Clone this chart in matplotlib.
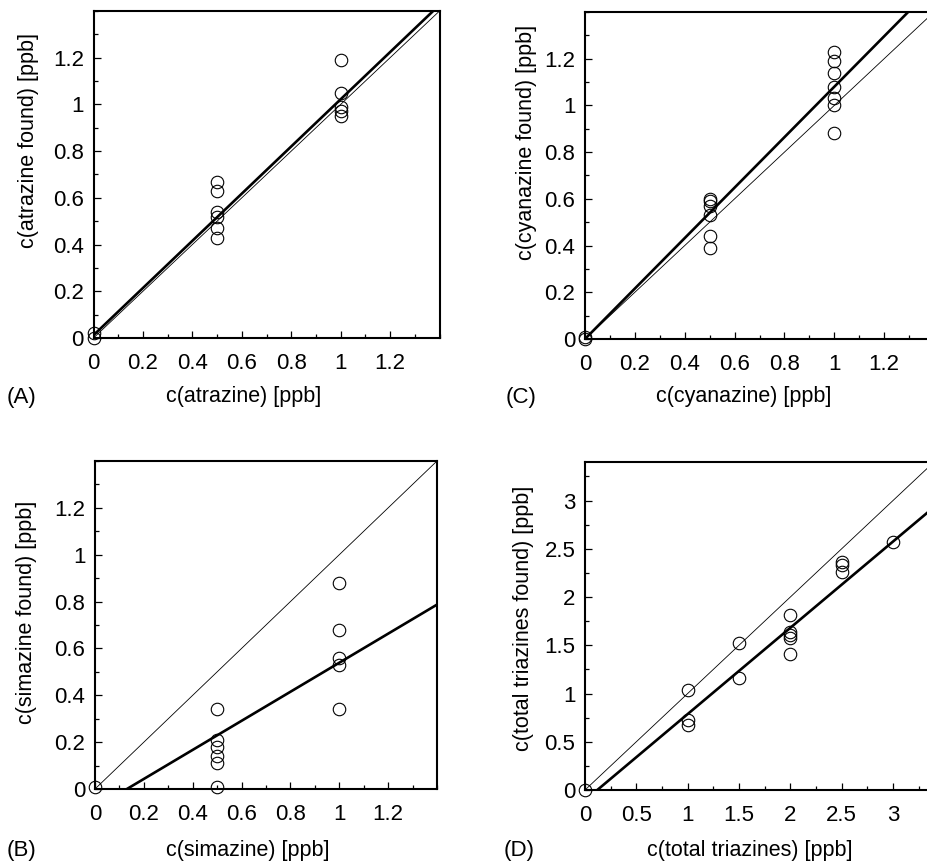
import numpy as np
import matplotlib
matplotlib.use('Agg')
import matplotlib.pyplot as plt
from matplotlib.ticker import FixedLocator, MultipleLocator, FuncFormatter

plt.rcParams['font.family'] = ['Liberation Sans', 'DejaVu Sans']

#---DATA----------------------------------------------------------------------

#(A) atrazine
atra_x = [0, 0, 0.5, 0.5, 0.5, 0.5, 0.5, 0.5, 1, 1, 1, 1, 1]
atra_y = [0.02, 0.0, 0.67, 0.63, 0.54, 0.52, 0.47, 0.43, 1.19, 1.05, 0.99, 0.97, 0.95]
atra_fit = (0.012, 1.01)   #(intercept, slope)

#(C) cyanazine
cyan_x = [0, 0, 0.5, 0.5, 0.5, 0.5, 0.5, 0.5, 1, 1, 1, 1, 1, 1, 1]
cyan_y = [0.01, 0.0, 0.60, 0.59, 0.57, 0.53, 0.44, 0.39, 1.23, 1.19, 1.14, 1.08, 1.03, 1.0, 0.88]
cyan_fit = (0.0, 1.08)

#(B) simazine
sima_x = [0, 0.5, 0.5, 0.5, 0.5, 0.5, 0.5, 1, 1, 1, 1, 1]
sima_y = [0.01, 0.34, 0.21, 0.18, 0.14, 0.11, 0.01, 0.88, 0.68, 0.56, 0.53, 0.34]
sima_fit = (-0.081, 0.62)

#(D) total triazines
tot_x = [0, 1, 1, 1, 1.5, 1.5, 2, 2, 2, 2, 2, 2.5, 2.5, 2.5, 3]
tot_y = [0.0, 1.04, 0.73, 0.67, 1.52, 1.16, 1.81, 1.64, 1.61, 1.58, 1.41, 2.36, 2.33, 2.26, 2.57]
tot_fit = (-0.107, 0.894)

small_ticks = [0, 0.2, 0.4, 0.6, 0.8, 1, 1.2]
total_ticks = [0, 0.5, 1, 1.5, 2, 2.5, 3]

#---PLOT----------------------------------------------------------------------

W, H = 927, 863
fig = plt.figure(figsize=(W/100, H/100), dpi=100)

def px_axes(left, top, w, h):
    #axes placed in pixel units measured from the top left corner
    return fig.add_axes([left/W, 1-(top+h)/H, w/W, h/H])

def panel(ax, x, y, fit, lim, ticks, minor, xlabel, ylabel, xlab_pos, ylab_pos):
    xx = np.array([0, lim])
    ax.plot(xx, xx, color='black', lw=0.6)
    ax.plot(xx, fit[0] + fit[1]*xx, color='black', lw=1.9)
    ax.plot(x, y, 'o', ms=9, mfc='none', mec='black', mew=0.8, clip_on=False, zorder=5)
    ax.set_xlim(0, lim)
    ax.set_ylim(0, lim)
    for axis in (ax.xaxis, ax.yaxis):
        axis.set_major_locator(FixedLocator(ticks))
        axis.set_minor_locator(MultipleLocator(minor))
        axis.set_major_formatter(FuncFormatter(lambda v, p: '%g' % v))
    ax.tick_params(which='both', direction='in', top=False, right=False, width=0.9, labelsize=16)
    ax.tick_params(which='major', length=5)
    ax.tick_params(which='minor', length=3)
    ax.tick_params(axis='x', pad=11)
    ax.tick_params(axis='y', pad=7)
    for s in ax.spines.values():
        s.set_linewidth(1.5)
    ax.set_xlabel(xlabel, fontsize=15.5, va='center')
    ax.set_ylabel(ylabel, fontsize=15.5, va='center')
    ax.xaxis.set_label_coords(*xlab_pos)
    ax.yaxis.set_label_coords(*ylab_pos)

axA = px_axes(93.5, 11, 346, 327)
panel(axA, atra_x, atra_y, atra_fit, 1.4, small_ticks, 0.1,
      'c(atrazine) [ppb]', 'c(atrazine found) [ppb]', (0.434, -0.18), (-0.189, 0.605))

axC = px_axes(585, 12, 349, 327)
panel(axC, cyan_x, cyan_y, cyan_fit, 1.4, small_ticks, 0.1,
      'c(cyanazine) [ppb]', 'c(cyanazine found) [ppb]', (0.455, -0.177), (-0.167, 0.601))

axB = px_axes(95, 461, 342, 328)
panel(axB, sima_x, sima_y, sima_fit, 1.4, small_ticks, 0.1,
      'c(simazine) [ppb]', 'c(simazine found) [ppb]', (0.448, -0.186), (-0.2, 0.54))

axD = px_axes(585, 462, 349, 328)
panel(axD, tot_x, tot_y, tot_fit, 3.4, total_ticks, 0.25,
      'c(total triazines) [ppb]', 'c(total triazines found) [ppb]', (0.473, -0.183), (-0.177, 0.523))

#Panel letters
for lab, px, py in [('(A)', 21.7, 397), ('(C)', 521, 397), ('(B)', 21.7, 850), ('(D)', 519, 850)]:
    fig.text(px/W, 1-py/H, lab, fontsize=16, ha='center', va='center')

fig.savefig('out.png', dpi=100)
